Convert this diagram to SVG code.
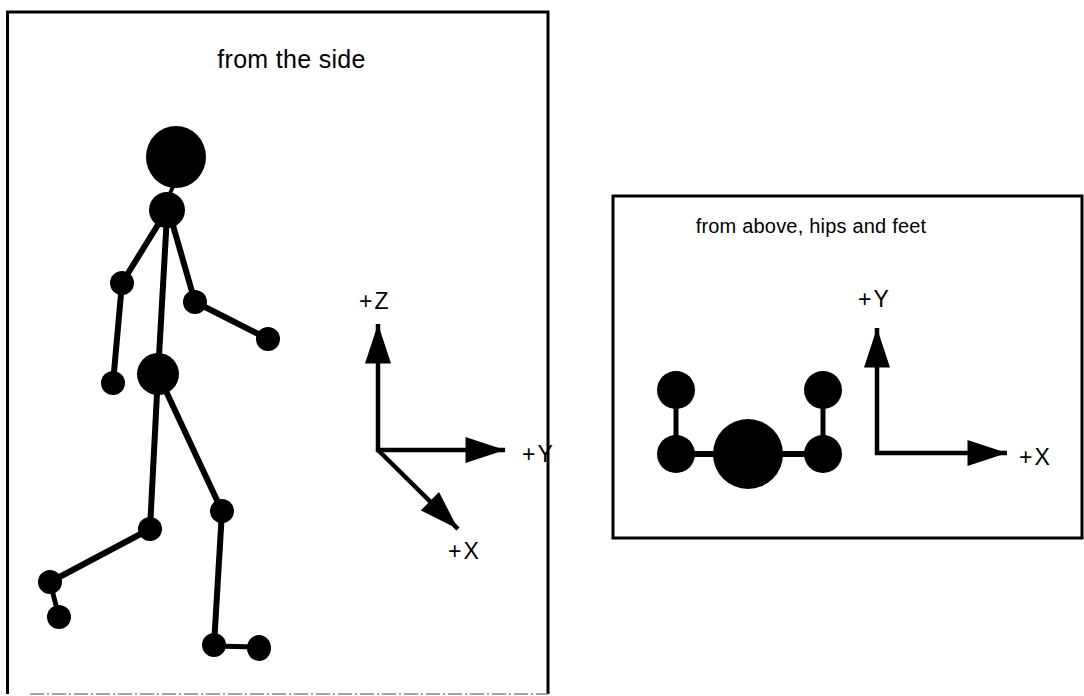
<svg xmlns="http://www.w3.org/2000/svg" width="1084" height="696" viewBox="0 0 1084 696">
  <style>
    .frame { fill: none; stroke: #000; stroke-width: 3; }
    .faint { fill: none; stroke: #888; stroke-width: 1.5; stroke-dasharray: 14 3 2 3; }
    .bone { stroke: #000; stroke-width: 6; stroke-linecap: butt; fill: none; }
    .thin { stroke: #000; stroke-width: 5; fill: none; }
    .joint { fill: #000; }
    .axis { stroke: #000; stroke-width: 4.5; fill: none; }
    .head { fill: #000; }
    .title { font-family: "Liberation Sans", Arial, sans-serif; font-size: 25px; fill: #000; text-anchor: middle; letter-spacing: 0.3px; }
    .title2 { font-family: "Liberation Sans", Arial, sans-serif; font-size: 20px; fill: #000; text-anchor: middle; letter-spacing: 0.2px; }
    .lbl { font-family: "Liberation Sans", Arial, sans-serif; font-size: 23px; fill: #000; letter-spacing: 2px; }
  </style>
  <defs>
    <marker id="tip" markerUnits="userSpaceOnUse" markerWidth="40" markerHeight="26" viewBox="0 0 38 25" refX="38" refY="12.5" orient="auto">
      <path d="M0,0 L38,12.5 L0,25 Z" fill="#000"/>
    </marker>
  </defs>

  <rect width="1084" height="696" fill="#fff"/>

  <!-- side view panel -->
  <g id="panel-side">
    <path class="frame" d="M7.5,694 L7.5,12 L548,12 L548,694"/>
    <line class="faint" x1="30" y1="694" x2="548" y2="694"/>
    <text class="title" x="291.5" y="68">from the side</text>
  </g>

  <!-- skeleton links -->
  <g id="connectors">
    <line x1="176" y1="180" x2="167" y2="200" stroke="#000" stroke-width="4"/>
    <line class="bone" x1="164" y1="215" x2="122" y2="283"/>
    <line class="bone" x1="122" y1="283" x2="113" y2="383"/>
    <line class="bone" x1="170" y1="215" x2="195" y2="302"/>
    <line class="bone" x1="195" y1="302" x2="268" y2="339"/>
    <line class="bone" x1="167" y1="215" x2="158" y2="374"/>
    <line class="bone" x1="158" y1="374" x2="150" y2="529"/>
    <line class="bone" x1="150" y1="529" x2="50" y2="582"/>
    <line class="thin" x1="50" y1="582" x2="59" y2="617"/>
    <line class="bone" x1="158" y1="374" x2="222" y2="511"/>
    <line class="bone" x1="222" y1="511" x2="214" y2="645"/>
    <line class="thin" x1="214" y1="646" x2="259" y2="647"/>
  </g>

  <g id="head"><ellipse class="head" cx="176" cy="157" rx="30" ry="31"/></g>
  <g id="neck"><circle class="joint" cx="167" cy="210" r="18"/></g>
  <g id="back-elbow"><circle class="joint" cx="122" cy="283" r="12"/></g>
  <g id="back-hand"><circle class="joint" cx="113" cy="383" r="12"/></g>
  <g id="front-elbow"><circle class="joint" cx="195" cy="302" r="12"/></g>
  <g id="front-hand"><circle class="joint" cx="268" cy="339" r="12"/></g>
  <g id="hip"><circle class="joint" cx="158" cy="374" r="21"/></g>
  <g id="back-knee"><circle class="joint" cx="150" cy="529" r="12"/></g>
  <g id="back-heel"><circle class="joint" cx="50" cy="582" r="12"/></g>
  <g id="back-toe"><circle class="joint" cx="59" cy="617" r="12"/></g>
  <g id="front-knee"><circle class="joint" cx="222" cy="511" r="12"/></g>
  <g id="front-ankle"><circle class="joint" cx="214" cy="645" r="12"/></g>
  <g id="front-toe"><ellipse class="joint" cx="259" cy="648" rx="12" ry="13"/></g>

  <!-- side view axes -->
  <g id="axes-side">
    <line class="axis" x1="378" y1="452" x2="378" y2="324" marker-end="url(#tip)"/>
    <line class="axis" x1="376" y1="450" x2="505" y2="450" marker-end="url(#tip)"/>
    <line class="axis" x1="378" y1="450" x2="458" y2="529" marker-end="url(#tip)"/>
    <text class="lbl" x="359" y="309">+Z</text>
    <text class="lbl" x="522" y="462">+Y</text>
    <text class="lbl" x="448" y="559">+X</text>
  </g>

  <!-- top view panel -->
  <g id="panel-top">
    <rect class="frame" x="613" y="196" width="469" height="342"/>
    <text class="title2" x="811" y="233">from above, hips and feet</text>
  </g>

  <g id="connectors-top">
    <line class="thin" x1="676" y1="390" x2="676" y2="454"/>
    <line class="thin" x1="823" y1="390" x2="823" y2="454"/>
    <line class="bone" x1="676" y1="454" x2="823" y2="454"/>
  </g>
  <g id="left-foot"><circle class="joint" cx="676" cy="390" r="19"/></g>
  <g id="left-hip"><circle class="joint" cx="676" cy="454" r="19"/></g>
  <g id="pelvis"><circle class="joint" cx="748" cy="454" r="35"/></g>
  <g id="right-foot"><circle class="joint" cx="823" cy="390" r="19"/></g>
  <g id="right-hip"><circle class="joint" cx="823" cy="454" r="19"/></g>

  <g id="axes-top">
    <line class="axis" x1="877" y1="455" x2="877" y2="328" marker-end="url(#tip)"/>
    <line class="axis" x1="875" y1="453" x2="1007" y2="453" marker-end="url(#tip)"/>
    <text class="lbl" x="858" y="307">+Y</text>
    <text class="lbl" x="1019" y="465">+X</text>
  </g>
</svg>
